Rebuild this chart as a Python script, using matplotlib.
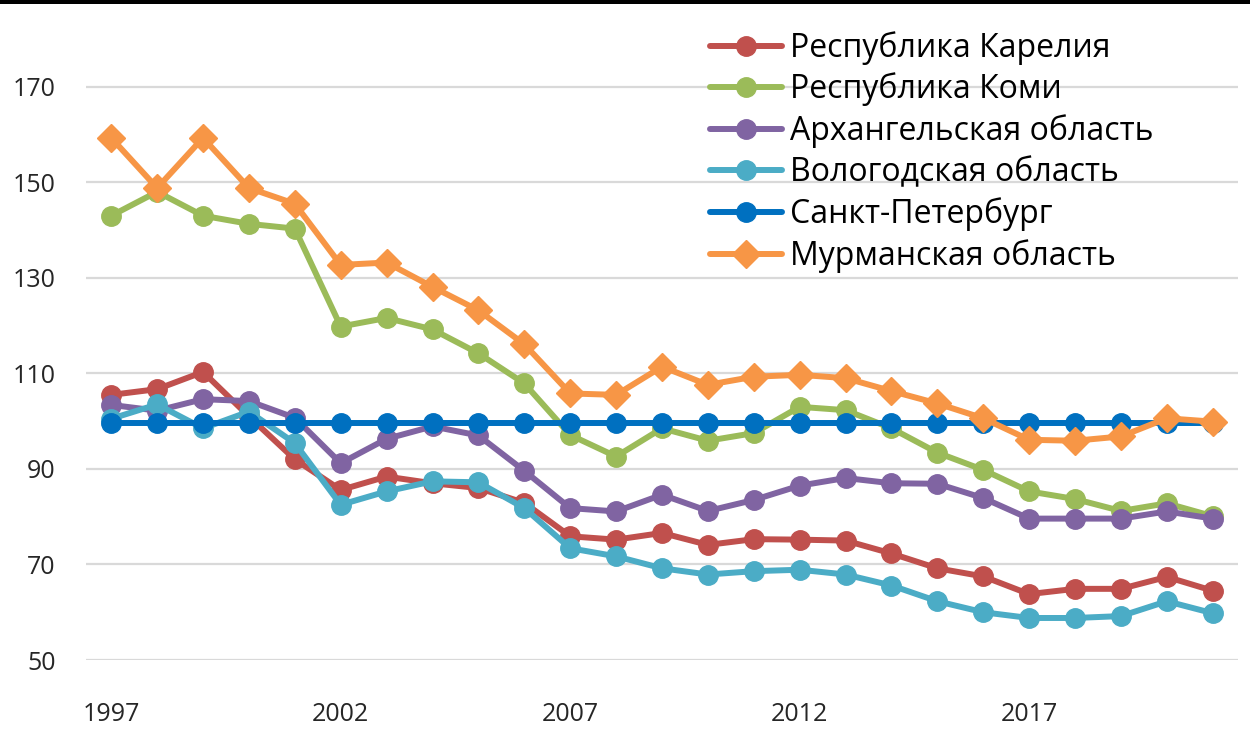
import matplotlib.pyplot as plt
from matplotlib.patches import Rectangle

years = list(range(1997, 2022))
tick_years = [1997, 2002, 2007, 2012, 2017]

karelia = [105.5, 106.7, 110.3, 101.0, 92.0, 85.6, 88.4, 87.0, 86.0, 82.9,
           75.9, 75.2, 76.6, 74.1, 75.3, 75.2, 75.0, 72.3, 69.2, 67.5,
           63.8, 64.9, 64.9, 67.4, 64.5]
komi = [143.0, 148.0, 143.0, 141.3, 140.3, 119.8, 121.6, 119.2, 114.2, 107.9,
        97.1, 92.6, 98.5, 95.9, 97.5, 103.0, 102.3, 98.5, 93.4, 89.8,
        85.3, 83.7, 81.2, 82.8, 80.1]
arkhangelsk = [103.4, 102.2, 104.6, 104.2, 100.7, 91.2, 96.3, 98.9, 97.0, 89.6,
               81.8, 81.1, 84.6, 81.2, 83.5, 86.5, 88.1, 87.0, 86.9, 83.9,
               79.6, 79.6, 79.6, 81.1, 79.6]
vologda = [100.5, 103.5, 98.5, 102.0, 95.4, 82.5, 85.3, 87.4, 87.2, 81.8,
           73.4, 71.7, 69.2, 67.9, 68.6, 68.9, 67.9, 65.6, 62.3, 60.0,
           58.8, 58.8, 59.2, 62.3, 59.8]
spb = [99.7] * 25
murmansk = [159.3, 148.8, 159.3, 148.8, 145.5, 132.7, 133.2, 128.1, 123.2, 116.1,
            105.8, 105.5, 111.4, 107.6, 109.3, 109.7, 109.0, 106.3, 103.7, 100.6,
            96.1, 95.9, 96.8, 100.6, 99.9]

series = [
    ("Республика Карелия", karelia, "#C0504D", "o"),
    ("Республика Коми", komi, "#9BBB59", "o"),
    ("Архангельская область", arkhangelsk, "#8064A2", "o"),
    ("Вологодская область", vologda, "#4BACC6", "o"),
    ("Санкт-Петербург", spb, "#0070C0", "o"),
    ("Мурманская область", murmansk, "#F79646", "D"),
]

plt.rcParams['font.family'] = ['Open Sans', 'DejaVu Sans']

fig = plt.figure(figsize=(12.5, 7.35), dpi=100)
ax = fig.add_axes([0.0688, 0.102, 0.9216, 0.845])

for name, vals, color, m in series:
    ms = 14 if m == "o" else 14.5
    ax.plot(years, vals, color=color, linewidth=4.3, marker=m, markersize=ms,
            label=name, solid_capstyle="round")

ax.set_xlim(1996.45, 2021.55)
ax.set_ylim(50, 180)
ax.set_yticks(range(50, 171, 20))
ax.set_xticks(tick_years)
ax.grid(axis="y", color="#D9D9D9", linewidth=1.6)
ax.set_axisbelow(True)
for s in ax.spines.values():
    s.set_visible(False)
ax.tick_params(length=0, labelsize=18, colors="#262626")
ax.tick_params(axis="x", pad=30)
ax.tick_params(axis="y", pad=22)

leg = ax.legend(loc="upper left", bbox_to_anchor=(0.568, 0.958),
                bbox_transform=fig.transFigure, frameon=False,
                fontsize=23, handlelength=2.25, handletextpad=0.25,
                labelspacing=0.25, borderpad=0, borderaxespad=0)

fig.add_artist(Rectangle((0, 0.995), 1, 0.005, transform=fig.transFigure,
                         color="black", linewidth=0))

fig.savefig("out.png", dpi=100)
